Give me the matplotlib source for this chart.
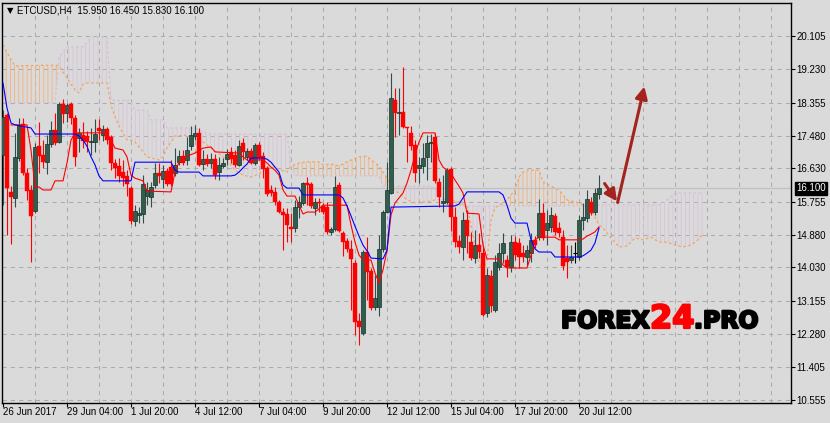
import numpy as np
import matplotlib
matplotlib.use("Agg")
import matplotlib.pyplot as plt
import matplotlib.patheffects as pe

plt.rcParams['font.family'] = ['Liberation Sans', 'DejaVu Sans']
plt.rcParams['hatch.linewidth'] = 0.6

# ETCUSD H4 candles (26 Jun 2017 12:00 onwards)
opens = [16.98, 18.03, 16.01, 15.85, 16.90, 17.79, 16.50, 16.06, 15.51, 17.21,
         16.98, 16.79, 17.27, 17.64, 17.32, 18.32, 18.08, 18.32, 17.95, 17.43,
         17.50, 17.48, 17.32, 17.32, 17.69, 17.50, 17.66, 17.45, 16.77, 16.69,
         16.53, 16.43, 16.11, 15.24, 15.40, 15.43, 15.90, 15.87, 16.19, 16.50,
         16.35, 16.56, 16.66, 16.50, 16.79, 16.95, 16.85, 17.21, 17.48, 17.56,
         16.74, 16.87, 16.77, 16.87, 16.53, 16.69, 16.87, 17.06, 16.98, 16.72,
         17.29, 16.93, 17.08, 16.77, 17.24, 16.95, 16.64, 16.06, 16.01, 15.74,
         15.48, 15.43, 15.09, 15.06, 15.61, 15.72, 16.24, 16.22, 15.59, 15.74,
         15.64, 15.61, 14.96, 15.03, 16.19, 14.93, 14.72, 14.51, 14.14, 12.62,
         12.30, 14.43, 13.93, 12.99, 12.99, 14.51, 15.48, 15.98, 18.42, 18.08,
         18.11, 17.71, 17.56, 17.24, 16.64, 16.69, 16.93, 17.29, 17.45, 16.27,
         15.72, 15.74, 16.61, 15.35, 14.72, 14.56, 15.27, 14.69, 14.27, 14.61,
         14.40, 12.83, 13.80, 12.91, 14.04, 14.40, 14.22, 14.04, 14.69, 14.67,
         14.40, 14.30, 14.40, 14.75, 14.82, 15.45, 15.01, 15.09, 15.38, 15.06,
         14.82, 14.27, 14.22, 14.40, 14.30, 15.27, 15.32, 15.74, 15.48, 15.95]
highs = [18.16, 18.08, 16.16, 17.56, 17.95, 17.95, 16.64, 16.19, 17.29, 17.85,
         17.37, 17.50, 17.87, 18.08, 18.37, 18.45, 18.35, 18.37, 18.03, 17.69,
         17.85, 17.61, 17.69, 17.93, 17.93, 17.77, 17.71, 17.50, 16.87, 16.90,
         16.85, 16.58, 16.16, 15.66, 15.61, 16.45, 16.27, 16.27, 16.77, 16.77,
         16.72, 16.64, 16.85, 17.16, 17.11, 17.11, 17.45, 17.74, 17.77, 17.69,
         17.11, 17.00, 17.03, 17.00, 16.93, 16.90, 17.14, 17.19, 17.11, 17.37,
         17.43, 17.16, 17.16, 17.29, 17.32, 17.06, 16.69, 16.19, 16.14, 15.80,
         15.59, 15.59, 15.45, 15.80, 15.90, 16.27, 16.40, 16.27, 15.85, 15.85,
         15.72, 15.74, 15.09, 16.43, 16.27, 14.98, 14.80, 14.75, 14.22, 12.83,
         14.48, 14.82, 14.01, 13.83, 14.88, 15.53, 16.79, 19.13, 18.74, 18.74,
         19.29, 17.71, 17.74, 17.37, 16.93, 17.29, 17.50, 17.53, 17.56, 16.37,
         16.45, 16.64, 16.66, 15.61, 14.88, 15.48, 15.53, 14.96, 15.01, 14.93,
         14.61, 14.01, 13.96, 14.35, 14.67, 14.93, 14.35, 14.88, 14.85, 14.80,
         14.61, 14.61, 14.93, 14.85, 15.82, 15.72, 15.53, 15.61, 15.45, 15.22,
         15.01, 14.61, 14.61, 14.69, 15.40, 15.72, 16.06, 15.87, 16.11, 16.45]
lows = [15.66, 14.88, 14.64, 15.61, 16.82, 16.45, 15.80, 14.17, 15.45, 16.50,
        16.64, 16.48, 17.19, 17.24, 17.29, 17.82, 17.85, 17.79, 16.69, 17.06,
        17.16, 17.06, 16.98, 17.06, 17.37, 17.35, 17.27, 16.58, 16.37, 16.27,
        16.16, 15.90, 15.17, 15.11, 15.19, 15.19, 15.66, 15.61, 16.11, 16.24,
        16.11, 16.16, 16.16, 16.43, 16.72, 16.72, 16.72, 17.11, 17.37, 16.69,
        16.58, 16.69, 16.64, 16.35, 16.32, 16.64, 16.72, 16.77, 16.66, 16.69,
        16.85, 16.85, 16.74, 16.72, 16.85, 16.37, 15.90, 15.90, 15.66, 15.45,
        14.48, 14.69, 14.69, 14.96, 15.32, 15.66, 15.66, 15.59, 15.40, 15.48,
        15.43, 14.90, 14.88, 14.98, 14.96, 14.33, 14.43, 12.91, 12.25, 11.99,
        12.25, 13.17, 12.91, 12.91, 12.75, 14.43, 15.45, 15.95, 17.45, 17.50,
        17.69, 16.79, 17.11, 16.27, 16.24, 16.50, 16.32, 16.79, 16.24, 15.61,
        15.48, 15.69, 14.98, 14.56, 14.40, 14.22, 14.40, 14.22, 14.14, 14.27,
        12.75, 12.72, 12.85, 12.85, 13.96, 14.14, 13.77, 13.90, 14.22, 14.01,
        14.17, 14.09, 14.17, 14.54, 14.75, 14.75, 14.61, 14.96, 14.88, 14.82,
        13.96, 13.75, 14.14, 14.14, 14.22, 15.01, 15.22, 15.40, 15.40, 15.83]
closes = [17.98, 16.11, 15.87, 16.93, 17.77, 16.50, 16.03, 15.38, 17.19, 16.95,
          16.79, 17.27, 17.64, 17.29, 18.32, 18.06, 18.29, 17.95, 16.93, 17.56,
          17.35, 17.32, 17.35, 17.53, 17.61, 17.66, 17.37, 16.77, 16.64, 16.43,
          16.37, 16.22, 15.24, 15.51, 15.45, 16.22, 16.06, 16.14, 16.50, 16.43,
          16.56, 16.22, 16.22, 16.72, 16.95, 16.77, 17.11, 17.50, 17.56, 16.72,
          16.87, 16.74, 16.87, 16.45, 16.72, 16.77, 17.00, 16.87, 16.72, 17.21,
          17.06, 17.08, 16.77, 17.24, 16.90, 16.61, 15.95, 15.98, 15.74, 15.48,
          15.40, 15.14, 15.03, 15.61, 15.74, 16.24, 16.19, 15.64, 15.74, 15.72,
          15.48, 14.96, 15.03, 16.14, 14.98, 14.69, 14.51, 14.25, 12.59, 12.46,
          14.43, 13.90, 12.96, 13.22, 14.51, 15.48, 16.06, 18.48, 18.08, 18.11,
          17.71, 17.69, 17.21, 16.50, 16.72, 16.90, 17.29, 17.32, 16.30, 15.87,
          15.77, 16.58, 15.35, 14.69, 14.56, 15.27, 14.85, 14.27, 14.61, 14.43,
          12.77, 13.83, 13.01, 14.17, 14.40, 14.67, 14.04, 14.69, 14.35, 14.30,
          14.30, 14.48, 14.75, 14.61, 15.45, 14.80, 15.19, 15.40, 14.96, 14.93,
          14.06, 14.17, 14.30, 14.40, 15.27, 15.35, 15.82, 15.45, 15.98, 16.10]

# Ichimoku Tenkan-sen (red), read at turning points
tenkan_bars = [2, 6, 7, 8, 9, 10, 12, 13, 15, 16, 17, 18, 26, 27, 28, 30, 31, 32, 33, 35,
               36, 42, 43, 44, 45, 46, 48, 50, 52, 53, 59, 60, 62, 63, 65, 66, 67, 68, 69, 70,
               71, 73, 74, 75, 76, 78, 79, 80, 86, 87, 88, 89, 90, 92, 93, 94, 95, 96, 97, 98,
               99, 100, 101, 102, 103, 104, 105, 108, 109, 110, 111, 112, 113, 114, 115, 116, 119, 120, 121, 124,
               125, 126, 131, 132, 133, 134, 138, 139, 144, 145, 146, 147, 148, 149]
tenkan_vals = [17.77, 17.77, 17.11, 16.14, 16.14, 16.06, 16.06, 16.30, 16.30, 16.77, 17.37, 17.56, 17.56, 17.37, 17.16, 17.11, 16.93, 16.45, 16.37, 16.30,
               16.03, 16.01, 16.53, 16.79, 16.85, 16.95, 17.03, 17.16, 17.19, 17.06, 17.03, 16.93, 16.77, 16.85, 16.85, 16.77, 16.66, 16.58, 16.45, 16.06,
               15.90, 15.90, 15.66, 15.43, 15.48, 15.48, 15.56, 15.66, 15.66, 15.14, 14.69, 14.35, 14.22, 14.22, 13.88, 13.62, 13.96, 14.48, 15.40, 15.72,
               15.85, 15.98, 16.24, 16.58, 16.98, 17.32, 17.56, 17.56, 16.85, 16.66, 16.58, 16.50, 16.32, 16.16, 15.98, 15.45, 15.43, 14.61, 14.25, 14.25,
               14.09, 14.01, 14.01, 14.35, 14.75, 14.82, 14.82, 14.75, 14.75, 14.77, 14.85, 14.90, 14.96, 15.09]

# Ichimoku Kijun-sen (blue)
kijun_bars = [0, 1, 2, 3, 7, 8, 18, 19, 20, 21, 22, 23, 24, 25, 32, 33, 42, 43, 44, 49,
              50, 57, 58, 59, 60, 61, 62, 65, 66, 67, 68, 69, 70, 71, 74, 75, 84, 85, 86, 87,
              88, 89, 90, 91, 92, 95, 96, 97, 113, 114, 115, 116, 124, 125, 126, 127, 128, 131, 132, 133,
              134, 137, 138, 144, 145, 146, 147, 148, 149]
kijun_vals = [18.87, 18.21, 17.82, 17.77, 17.69, 17.53, 17.53, 17.48, 17.37, 17.21, 16.93, 16.72, 16.43, 16.30, 16.30, 16.79, 16.79, 16.58, 16.53, 16.53,
              16.43, 16.43, 16.45, 16.53, 16.64, 16.74, 16.90, 16.90, 16.87, 16.79, 16.66, 16.53, 16.19, 16.11, 16.11, 15.93, 15.93, 15.85, 15.64, 15.38,
              15.11, 14.85, 14.61, 14.46, 14.27, 14.25, 14.48, 15.61, 15.64, 15.69, 15.85, 16.01, 16.01, 15.93, 15.66, 15.32, 15.19, 15.19, 14.75, 14.51,
              14.43, 14.43, 14.30, 14.30, 14.33, 14.40, 14.48, 14.67, 15.06]

# Senkou Span A / Span B (cloud, shifted 26 bars ahead)
cloud_bars = [0, 2, 3, 13, 14, 15, 16, 17, 18, 19, 20, 21, 22, 26, 27, 28, 29, 31, 32, 33,
              36, 37, 39, 40, 41, 43, 46, 48, 50, 52, 54, 56, 58, 60, 62, 64, 66, 68, 70, 71,
              72, 73, 74, 76, 79, 80, 82, 84, 86, 89, 91, 92, 94, 95, 96, 97, 98, 99, 101, 103,
              107, 108, 111, 114, 116, 117, 118, 119, 120, 121, 122, 123, 126, 128, 129, 130, 131, 134, 135, 137,
              139, 141, 144, 147, 148, 149, 150, 152, 154, 156, 158, 160, 162, 164, 166, 168, 170, 172, 174, 175]
span_a = [19.87, 19.48, 19.32, 19.34, 19.32, 19.16, 19.00, 18.84, 18.69, 18.61, 18.84, 18.87, 18.87, 18.87, 18.29, 17.98, 17.74, 17.37, 17.37, 17.32,
          16.93, 16.90, 16.85, 16.93, 17.16, 17.48, 17.50, 17.43, 17.32, 17.16, 17.01, 16.85, 16.58, 16.45, 16.40, 16.48, 16.64, 16.66, 16.56, 16.53,
          16.69, 16.72, 16.77, 16.80, 16.80, 16.72, 16.74, 16.69, 16.80, 16.93, 16.95, 16.85, 16.69, 16.53, 16.37, 16.16, 16.03, 15.98, 15.80, 15.72,
          15.77, 15.80, 15.82, 15.74, 15.61, 15.14, 14.61, 14.14, 13.90, 14.22, 15.27, 15.59, 15.80, 16.06, 16.40, 16.53, 16.58, 16.58, 16.27, 16.16,
          16.06, 15.80, 15.72, 15.56, 15.35, 15.14, 15.06, 14.80, 14.56, 14.59, 14.80, 14.75, 14.82, 14.69, 14.69, 14.61, 14.56, 14.61, 14.77, 14.93]
span_b = [18.35, 18.35, 18.35, 18.35, 19.53, 19.69, 19.82, 19.82, 19.82, 19.82, 19.82, 19.92, 20.08, 20.08, 18.42, 18.42, 18.42, 18.42, 18.37, 18.16,
          18.16, 17.90, 17.90, 17.90, 17.69, 17.69, 17.69, 17.69, 17.58, 17.53, 17.53, 17.53, 17.53, 17.53, 17.53, 17.53, 17.53, 17.53, 17.53, 17.53,
          16.72, 16.45, 16.43, 16.43, 16.43, 16.43, 16.43, 16.43, 16.43, 16.43, 16.43, 16.43, 16.43, 16.16, 16.16, 16.16, 16.16, 16.16, 16.16, 16.16,
          16.16, 16.11, 15.64, 15.64, 15.64, 15.64, 15.64, 15.64, 15.64, 15.64, 15.64, 15.64, 15.64, 15.64, 15.64, 15.64, 15.64, 15.64, 15.64, 15.64,
          15.64, 15.64, 15.64, 15.64, 15.64, 15.67, 15.67, 15.67, 15.67, 15.67, 15.67, 15.67, 15.67, 15.67, 15.80, 15.98, 15.98, 15.98, 15.98, 15.98]

price_ticks = [20.105, 19.230, 18.355, 17.480, 16.630, 15.755, 14.880, 14.030, 13.155, 12.280, 11.405, 10.555]
date_ticks = [0, 16, 32, 48, 64, 80, 96, 112, 128, 144]
date_labels = ['26 Jun 2017', '29 Jun 04:00', '1 Jul 20:00', '4 Jul 12:00', '7 Jul 04:00',
               '9 Jul 20:00', '12 Jul 12:00', '15 Jul 04:00', '17 Jul 20:00', '20 Jul 12:00']
last_price = 16.100

BG = '#dadada'
GRID = '#ababab'
BULL = '#2f5d4e'
BEAR = '#ff0000'

W, H = 830, 423
fig = plt.figure(figsize=(W / 100, H / 100), dpi=100, facecolor=BG)
left, right, top, bottom = 2.3, 790.5, 2.7, 402.5
ax = fig.add_axes([left / W, 1 - bottom / H, (right - left) / W, (bottom - top) / H], facecolor=BG)

o = np.array(opens); h = np.array(highs); l = np.array(lows); c = np.array(closes)
x = np.arange(len(o))

# grid
for gx in range(8, 200, 8):
    ax.axvline(gx, color=GRID, lw=0.75, ls=(0, (4, 4)), zorder=0)
for gy in price_ticks:
    ax.axhline(gy, color=GRID, lw=0.75, ls=(0, (4, 4)), zorder=0)

# cloud
cb = np.array(cloud_bars); sa = np.array(span_a); sb = np.array(span_b)
ax.fill_between(cb, sa, sb, where=sa >= sb, interpolate=True, facecolor='none',
                edgecolor='#f4b27a', hatch='||||', linewidth=0, zorder=1)
ax.fill_between(cb, sa, sb, where=sa < sb, interpolate=True, facecolor='none',
                edgecolor='#d9c3d9', hatch='||||', linewidth=0, zorder=1)
ax.plot(cb, sa, color='#f4a460', lw=0.9, ls=(0, (2, 2)), zorder=2)
ax.plot(cb, sb, color='#d8bfd8', lw=0.9, ls=(0, (2, 2)), zorder=2)

# current price line
ax.axhline(last_price, color='#c0c0c0', lw=0.9, zorder=2)

# candles
up = c > o
dn = c < o
eq = c == o
wick_cols = np.where(up, '#2f4f4f', np.where(dn, BEAR, '#000000'))
ax.vlines(x, l, h, colors=wick_cols, lw=0.8, zorder=3)
ax.bar(x[up], (c - o)[up], bottom=o[up], width=0.78, color=BULL,
       edgecolor='#1e3028', linewidth=0.5, zorder=4)
ax.bar(x[dn], (c - o)[dn], bottom=o[dn], width=0.78, color=BEAR,
       edgecolor=BEAR, linewidth=0.3, zorder=4)
ax.hlines(o[eq], x[eq] - 0.4, x[eq] + 0.4, colors='#000000', lw=0.8, zorder=4)

# tenkan / kijun
ax.plot(tenkan_bars, tenkan_vals, color='#ff0000', lw=0.8, zorder=5)
ax.plot(kijun_bars, kijun_vals, color='#0000ff', lw=0.8, zorder=5)

# forecast arrows
arrow_col = '#a3241f'
ax.annotate('', xy=(153.9, 15.70), xytext=(150.0, 16.29),
            arrowprops=dict(arrowstyle='-|>', color=arrow_col, lw=2.2, mutation_scale=18), zorder=6)
ax.annotate('', xy=(160.5, 18.85), xytext=(153.5, 15.66),
            arrowprops=dict(arrowstyle='-|>', color=arrow_col, lw=2.2, mutation_scale=18), zorder=6)

ax.set_xlim(-0.175, (right - 3) / 4)
ax.set_ylim(21.051 - 0.026272 * bottom, 21.051 - 0.026272 * top)

ax.yaxis.tick_right()
ax.set_yticks(price_ticks)
ax.set_yticklabels(['%.3f' % v for v in price_ticks])
ax.set_xticks(date_ticks)
ax.set_xticklabels(date_labels, ha='left')
ax.tick_params(axis='y', direction='out', length=3, width=0.8, pad=1.5, labelsize=7, colors='black')
ax.tick_params(axis='x', direction='out', length=3, width=0.8, pad=0.5, labelsize=7, colors='black')
for s in ax.spines.values():
    s.set_color('black')
    s.set_linewidth(1.0)

# last price tag
ax.annotate('16.100', xy=(1, last_price), xycoords=('axes fraction', 'data'),
            xytext=(4, 0), textcoords='offset points', va='center', ha='left',
            fontsize=7, color='white',
            bbox=dict(boxstyle='square,pad=0.15', fc='black', ec='black'))

# header
fig.text(7 / W, 1 - 10.5 / H, '\u25bc', fontsize=6, family='DejaVu Sans', va='center', ha='left')
fig.text(17 / W, 1 - 10.5 / H, 'ETCUSD,H4  15.950 16.450 15.830 16.100', fontsize=7,
         va='center', ha='left', color='black')

# watermark
base = 1 - 328 / H
heavy_k = [pe.withStroke(linewidth=1.6, foreground='black')]
heavy_r = [pe.withStroke(linewidth=1.6, foreground='#ff0000')]
fig.text(561 / W, base, 'FOREX', fontsize=17, fontweight='bold', family='DejaVu Sans',
         color='black', va='baseline', ha='left', zorder=10, path_effects=heavy_k)
fig.text(650 / W, base, '24', fontsize=23, fontweight='bold', family='DejaVu Sans',
         color='#ff0000', va='baseline', ha='left', zorder=10, path_effects=heavy_r)
fig.text(694 / W, base, '.PRO', fontsize=17, fontweight='bold', family='DejaVu Sans',
         color='black', va='baseline', ha='left', zorder=10, path_effects=heavy_k)

fig.savefig('out.png', dpi=100, facecolor=BG)
